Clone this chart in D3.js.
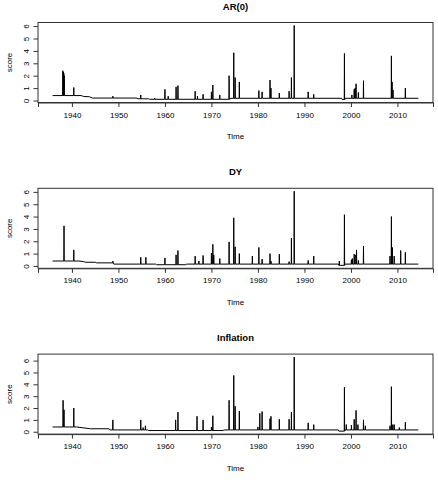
<!DOCTYPE html>
<html>
<head>
<meta charset="utf-8">
<script src="https://cdn.jsdelivr.net/npm/d3@7"></script>
<style>
  body { margin: 0; background: #fff; }
  text { font-family: "Liberation Sans", Arial, sans-serif; fill: #000; }
</style>
</head>
<body>
<svg id="chart" width="438" height="494"></svg>
<script>
// panel titles
var titles = ["AR(0)", "DY", "Inflation"];
var yTicks = [0, 1, 2, 3, 4, 5, 6];
var xTicks = [1940, 1950, 1960, 1970, 1980, 1990, 2000, 2010];

// slowly moving baseline of each score, [year, value]
var baseAR = [[1935.85,0.4],[1942.0,0.4],[1942.5,0.33],[1943.8,0.3],[1944.4,0.2],[1954.0,0.2],[1954.2,0.14],
  [1956.5,0.14],[1956.7,0.1],[1973.9,0.1],[1974.2,0.18],[1998.0,0.18],[1998.1,0.08],[1998.7,0.08],
  [1998.8,0.18],[2014.5,0.18]];
var baseDY = [[1935.85,0.4],[1941.5,0.4],[1942.5,0.35],[1943.0,0.3],[1945.0,0.3],[1945.3,0.25],[1948.8,0.25],
  [1949.0,0.15],[1958.0,0.15],[1958.2,0.1],[1964.5,0.1],[1964.7,0.15],[1997.3,0.15],[1997.4,0.05],
  [1998.5,0.05],[1998.7,0.15],[2014.5,0.15]];
var baseINF = [[1935.85,0.4],[1941.0,0.4],[1943.0,0.3],[1944.0,0.25],[1948.0,0.25],[1948.2,0.15],[1956.3,0.15],
  [1956.5,0.1],[1972.5,0.1],[1972.7,0.15],[1997.3,0.15],[1997.4,0.05],[1998.5,0.05],[1998.7,0.15],
  [2014.5,0.15]];

// monthly spikes, [year, value]
var spikesAR = [[1938.05,2.4],[1938.15,2.3],[1938.25,2.2],[1938.35,2.0],[1940.4,1.05],[1948.8,0.35],
  [1954.8,0.45],[1957.8,0.2],[1960.0,0.9],[1960.7,0.35],[1962.4,1.1],[1962.8,1.2],[1966.5,0.75],
  [1967.0,0.35],[1968.2,0.5],[1970.0,0.7],[1970.3,1.25],[1971.8,0.45],[1973.8,2.0],[1974.8,3.85],
  [1975.1,1.85],[1976.0,1.5],[1980.2,0.8],[1980.9,0.7],[1982.6,1.65],[1982.8,1.0],[1984.6,0.6],
  [1986.7,0.75],[1987.2,1.85],[1987.8,6.05],[1990.8,0.7],[1992.0,0.5],[1998.6,3.8],[2000.2,0.45],
  [2000.7,0.9],[2000.9,1.0],[2001.1,1.35],[2001.6,0.65],[2002.7,1.6],[2008.7,3.6],[2008.85,1.5],
  [2009.05,0.85],[2011.7,1.0]];
var spikesDY = [[1938.3,3.25],[1940.4,1.3],[1948.8,0.4],[1954.8,0.7],[1955.9,0.7],[1960.0,0.65],
  [1962.4,0.9],[1962.8,1.25],[1966.5,0.8],[1967.3,0.4],[1968.2,0.85],[1970.0,1.05],[1970.3,1.75],
  [1970.5,0.9],[1971.8,0.6],[1973.8,1.95],[1974.8,3.9],[1975.1,1.55],[1976.0,1.0],[1978.8,0.8],
  [1980.2,1.5],[1980.9,0.55],[1982.6,1.0],[1982.8,0.4],[1984.6,0.95],[1986.7,0.35],[1987.2,2.25],
  [1987.8,6.05],[1990.8,0.45],[1992.0,0.8],[1997.5,0.4],[1998.6,4.15],[2000.1,0.5],[2000.3,0.6],
  [2000.7,0.95],[2000.9,0.9],[2001.2,1.3],[2001.6,0.45],[2002.7,1.6],[2008.4,0.8],[2008.7,4.0],
  [2008.9,1.5],[2009.3,0.8],[2010.7,1.25],[2011.7,1.1]];
var spikesINF = [[1938.1,2.65],[1938.3,1.85],[1940.4,2.0],[1948.8,1.0],[1954.8,1.0],[1955.3,0.35],
  [1955.8,0.5],[1962.3,1.0],[1962.8,1.65],[1966.9,1.3],[1968.2,1.0],[1970.0,0.4],[1970.3,1.35],
  [1973.8,2.65],[1974.8,4.75],[1975.1,2.15],[1976.0,1.75],[1980.0,0.4],[1980.4,1.55],[1980.9,1.7],
  [1982.6,1.1],[1982.8,1.3],[1984.6,1.05],[1986.7,1.05],[1987.2,1.65],[1987.8,6.3],[1990.8,0.75],
  [1992.0,0.6],[1998.6,3.75],[1999.0,0.6],[2000.1,0.55],[2000.7,1.05],[2001.1,1.8],[2001.5,0.6],
  [2002.7,1.0],[2003.1,0.5],[2008.4,0.5],[2008.7,3.8],[2009.0,0.6],[2009.3,0.6],[2010.4,0.35],
  [2011.7,0.8]];

var bases = [baseAR, baseDY, baseINF];
var spikes = [spikesAR, spikesDY, spikesINF];

var svg = d3.select("#chart");
var left = 38, right = 433, boxH = 80, firstTop = 22.5, step = 165.8;

// build the drawn series: baseline plus a narrow one-month spike at each date
function buildSeries(base, sp) {
  var pts = base.slice();
  sp.forEach(function(s) {
    var lvl = base[0][1];
    base.forEach(function(b) { if (b[0] <= s[0]) lvl = b[1]; });
    pts.push([s[0] - 0.04, lvl], [s[0], s[1]], [s[0] + 0.04, lvl]);
  });
  return pts.sort(function(a, b) { return a[0] - b[0]; });
}

// R style 4% padding
function pad(ext) {
  var d = (ext[1] - ext[0]) * 0.04;
  return [ext[0] - d, ext[1] + d];
}

function drawPanel(i) {
  var panelTop = firstTop + i * step;
  var series = buildSeries(bases[i], spikes[i]);

  var x = d3.scaleLinear()
            .domain(pad(d3.extent(series, function(d) { return d[0]; })))
            .range([left, right]);
  var y = d3.scaleLinear()
            .domain(pad(d3.extent(series, function(d) { return d[1]; })))
            .range([panelTop + boxH, panelTop]);

  var line = d3.line()
               .x(function(d) { return x(d[0]); })
               .y(function(d) { return y(d[1]); });

  svg.append("path")
     .attr("d", line(series))
     .attr("fill", "none")
     .attr("stroke", "#000")
     .attr("stroke-width", 1);

  // box
  svg.append("rect")
     .attr("x", left).attr("y", panelTop)
     .attr("width", right - left).attr("height", boxH)
     .attr("fill", "none")
     .attr("stroke", "#333")
     .attr("stroke-width", 1);

  // x axis
  var gx = svg.append("g")
              .attr("transform", "translate(0," + (panelTop + boxH) + ")")
              .call(d3.axisBottom(x).tickValues(xTicks).tickSize(4.5).tickPadding(3).tickFormat(d3.format("d")));
  gx.select(".domain").attr("stroke", "#333");
  gx.selectAll(".tick line").attr("stroke", "#333");
  gx.selectAll("text").attr("font-size", 8).attr("dy", "0.95em");
  gx.attr("font-family", null).attr("font-size", null);

  // y axis, rotated labels like R
  var gy = svg.append("g")
              .attr("transform", "translate(" + left + ",0)")
              .call(d3.axisLeft(y).tickValues(yTicks).tickSize(4.5).tickFormat(d3.format("d")));
  gy.select(".domain").remove();
  gy.attr("font-family", null).attr("font-size", null);
  gy.selectAll(".tick line").attr("stroke", "#333");
  gy.selectAll(".tick text")
    .attr("font-size", 8)
    .attr("x", null).attr("dy", null)
    .attr("text-anchor", "middle")
    .attr("transform", "translate(-9.5,0) rotate(-90)");

  // title
  svg.append("text")
     .attr("x", (left + right) / 2)
     .attr("y", panelTop - 13)
     .attr("text-anchor", "middle")
     .attr("font-size", 9.5)
     .attr("font-weight", "bold")
     .text(titles[i]);

  // axis labels
  svg.append("text")
     .attr("x", (left + right) / 2)
     .attr("y", panelTop + boxH + 36.8)
     .attr("text-anchor", "middle")
     .attr("font-size", 8)
     .text("Time");

  svg.append("text")
     .attr("transform", "translate(11.7," + (panelTop + boxH / 2) + ") rotate(-90)")
     .attr("text-anchor", "middle")
     .attr("font-size", 8)
     .text("score");
}

for (var i = 0; i < 3; i++) drawPanel(i);
</script>
</body>
</html>
